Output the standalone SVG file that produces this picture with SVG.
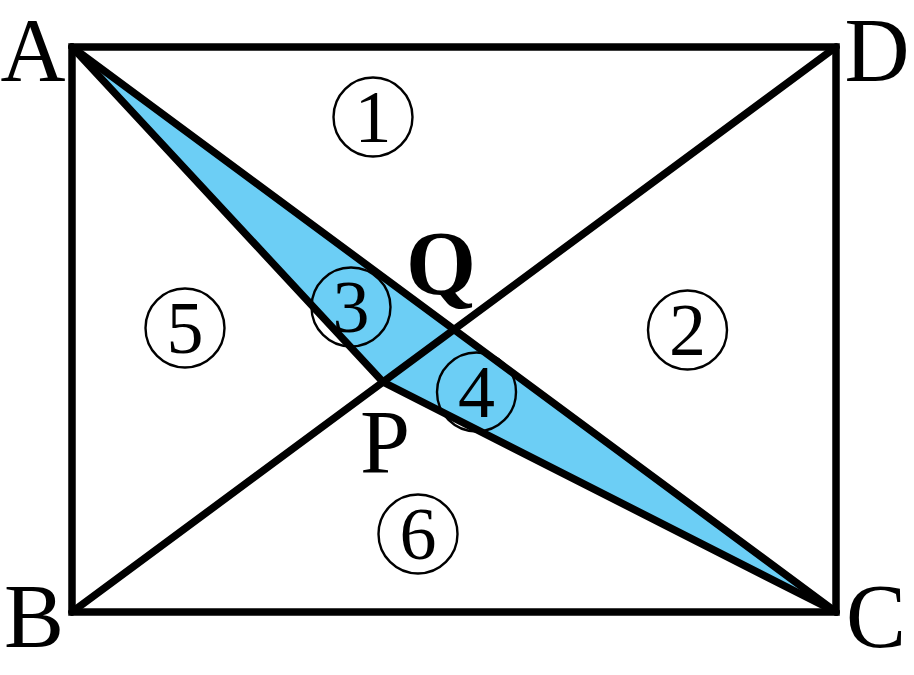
<svg xmlns="http://www.w3.org/2000/svg" width="914" height="675" viewBox="0 0 914 675">
<style>
.ln{fill:none;stroke:#000;stroke-width:7.5;stroke-linecap:round;stroke-linejoin:round}
.rc{fill:none;stroke:#000;stroke-width:7.5;stroke-linejoin:miter}
.cir{fill:none;stroke:#000;stroke-width:2.4}
.lab{font-family:"Liberation Serif","DejaVu Serif",serif;font-size:90px;text-anchor:middle;fill:#000}
.num{font-family:"Liberation Serif","DejaVu Serif",serif;font-size:74px;text-anchor:middle;fill:#000}
</style>
<rect width="914" height="675" fill="#fff"/>
<g id="shaded">
<polygon points="72,47 383,382 836,612" fill="#6CCEF5"/>
</g>
<g id="connectors">
<rect class="rc" x="72" y="47" width="764" height="565"/>
<line class="ln" x1="72" y1="47" x2="836" y2="612"/>
<line class="ln" x1="72" y1="612" x2="836" y2="47"/>
<polyline class="ln" points="72,47 383,382 836,612"/>
</g>
<g id="A"><text class="lab" x="33" y="80.5">A</text></g>
<g id="D"><text class="lab" x="877" y="80.5">D</text></g>
<g id="B"><text class="lab" x="34" y="647">B</text></g>
<g id="C"><text class="lab" x="876" y="647">C</text></g>
<g id="P"><text class="lab" x="385" y="473">P</text></g>
<g id="Q"><text class="lab" x="441" y="294" font-weight="bold">Q</text></g>
<g id="r1"><circle class="cir" cx="373" cy="117" r="39.5"/><text class="num" x="373" y="142">1</text></g>
<g id="r2"><circle class="cir" cx="687.5" cy="330" r="39.5"/><text class="num" x="687.5" y="355">2</text></g>
<g id="r3"><circle class="cir" cx="351" cy="307" r="39.5"/><text class="num" x="351" y="332">3</text></g>
<g id="r4"><circle class="cir" cx="476.5" cy="392" r="39.5"/><text class="num" x="476.5" y="417">4</text></g>
<g id="r5"><circle class="cir" cx="185" cy="328" r="39.5"/><text class="num" x="185" y="353">5</text></g>
<g id="r6"><circle class="cir" cx="418" cy="534" r="39.5"/><text class="num" x="418" y="559">6</text></g>
</svg>
